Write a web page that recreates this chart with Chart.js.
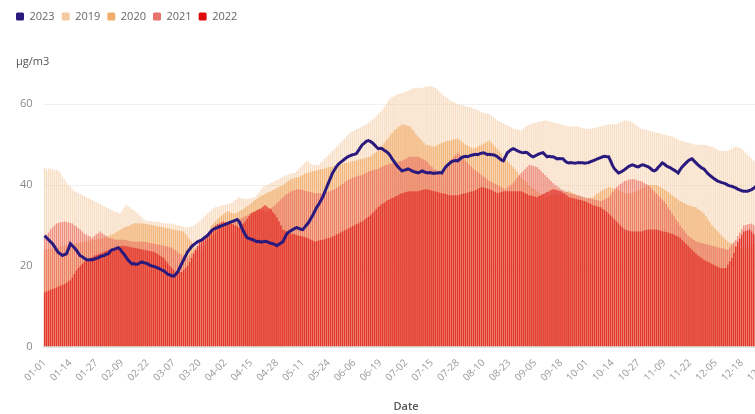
<!DOCTYPE html>
<html><head><meta charset="utf-8">
<script src="https://cdn.jsdelivr.net/npm/chart.js@4.4.0/dist/chart.umd.min.js"></script>
<style>
html,body{margin:0;padding:0;overflow:hidden;background:#fff;}
#wrap{width:778px;height:414px;position:relative;}
</style></head><body>
<div id="wrap"><canvas id="c"></canvas></div>
<script>
const monthDays=[31,28,31,30,31,30,31,31,30,31,30,31];
const categories=[];
monthDays.forEach((n,m)=>{for(let d=1;d<=n;d++){categories.push(String(m+1).padStart(2,'0')+'-'+String(d).padStart(2,'0'));}});
const tickLabels=['01-01','01-14','01-27','02-09','02-22','03-07','03-20','04-02','04-15','04-28','05-11','05-24','06-06','06-19','07-02','07-15','07-28','08-10','08-23','09-05','09-18','10-01','10-14','10-27','11-09','11-22','12-05','12-18','12-31'];
const seriesNames=['2023','2019','2020','2021','2022'];
const legendColors=['#2b1a7e','#f5c9a0','#f0ad6c','#e8736d','#e00b0b'];

const v2019=[
44.2,43.8,44.1,44.0,43.9,43.6,43.8,43.5,42.9,42.0,
41.4,40.6,40.0,39.6,39.0,38.5,38.3,38.0,37.8,37.5,
37.3,37.0,36.8,36.5,36.3,36.0,35.8,35.5,35.3,35.0,
34.8,34.5,34.3,34.0,33.8,33.5,33.4,33.2,33.0,33.6,
34.4,35.0,34.8,34.5,34.1,33.8,33.4,33.0,32.5,32.0,
31.5,31.3,31.1,31.0,31.1,31.0,30.9,31.0,30.8,30.6,
30.5,30.6,30.4,30.5,30.5,30.3,30.2,30.1,30.0,29.8,
29.7,29.6,29.5,29.7,29.8,30.0,30.3,30.6,31.0,31.5,
32.0,32.5,33.0,33.4,33.8,34.2,34.5,34.6,34.8,34.9,
35.0,35.1,35.3,35.4,35.5,35.9,36.3,36.7,37.0,36.9,
36.7,36.6,36.5,36.6,36.8,36.9,37.0,37.6,38.2,38.9,
39.5,39.7,40.0,40.2,40.5,40.7,41.0,41.2,41.5,41.8,
42.0,42.3,42.5,42.6,42.8,42.9,43.0,43.5,44.0,44.5,
45.0,45.5,46.0,45.7,45.3,45.0,45.0,45.1,45.0,45.5,
46.0,46.5,47.0,47.5,48.0,48.5,49.0,49.5,50.0,50.5,
51.0,51.5,52.0,52.5,53.0,53.3,53.5,53.8,54.0,54.3,
54.5,54.8,55.0,55.4,55.8,56.2,56.5,57.0,57.5,58.0,
58.5,59.3,60.0,60.8,61.5,61.8,62.0,62.3,62.5,62.6,
62.8,62.9,63.0,63.3,63.5,63.8,64.0,64.0,64.1,64.0,
64.0,64.2,64.3,64.4,64.5,64.4,64.2,64.0,63.6,63.0,
62.5,62.1,61.8,61.4,61.0,60.8,60.5,60.3,60.0,59.9,
59.8,59.6,59.5,59.4,59.3,59.1,59.0,58.8,58.5,58.3,
58.0,57.9,57.8,57.6,57.5,57.1,56.8,56.4,56.0,55.8,
55.5,55.3,55.0,54.8,54.5,54.3,54.0,53.9,53.8,53.6,
53.5,53.9,54.3,54.7,55.0,55.1,55.3,55.4,55.5,55.7,
55.8,55.9,56.0,55.9,55.8,55.6,55.5,55.4,55.2,55.1,
55.0,54.9,54.8,54.6,54.5,54.5,54.6,54.5,54.5,54.4,
54.2,54.1,54.0,54.0,53.9,54.0,54.0,54.1,54.3,54.4,
54.5,54.6,54.8,54.9,55.0,55.0,55.1,55.0,55.0,55.3,
55.5,55.8,56.0,56.0,55.9,55.7,55.5,55.2,54.8,54.4,
54.0,53.9,53.8,53.6,53.5,53.4,53.2,53.1,53.0,52.9,
52.8,52.6,52.5,52.4,52.2,52.1,52.0,51.8,51.5,51.3,
51.0,50.9,50.8,50.6,50.5,50.4,50.2,50.1,50.0,50.0,
50.0,50.0,50.0,49.9,49.8,49.6,49.5,49.3,49.0,48.8,
48.5,48.5,48.4,48.5,48.5,48.8,49.0,49.3,49.5,49.4,
49.2,48.9,48.5,48.0,47.5,47.0,46.5,46.1,45.8,45.4,
45.0,44.8,44.5,44.2,44.0];

const v2020=[
24.0,24.1,24.2,24.3,24.4,24.5,24.6,24.7,24.8,24.9,
25.0,25.1,25.2,25.3,25.4,25.5,25.6,25.7,25.8,25.9,
26.0,26.1,26.2,26.3,26.4,26.5,26.6,26.7,26.8,26.9,
27.0,27.2,27.4,27.6,27.8,28.0,28.3,28.6,28.9,29.2,
29.5,29.7,29.9,30.1,30.3,30.5,30.6,30.5,30.6,30.5,
30.5,30.4,30.3,30.2,30.1,30.0,29.9,29.8,29.7,29.6,
29.5,29.4,29.3,29.2,29.1,29.0,28.9,28.8,28.7,28.6,
28.5,27.9,27.3,26.6,26.0,25.2,24.5,23.7,23.0,23.6,
24.3,25.0,26.7,28.3,30.0,30.5,31.0,31.5,32.0,32.4,
32.8,33.1,33.5,33.4,33.2,33.1,33.0,33.2,33.5,33.8,
34.0,34.4,34.8,35.1,35.5,35.9,36.3,36.6,37.0,37.3,
37.5,37.8,38.0,38.3,38.5,38.8,39.0,39.3,39.5,39.8,
40.0,40.4,40.8,41.1,41.5,41.6,41.8,41.9,42.0,42.3,
42.5,42.8,43.0,43.1,43.3,43.4,43.5,43.6,43.8,43.9,
44.0,44.1,44.3,44.4,44.5,44.6,44.8,44.9,45.0,45.1,
45.3,45.4,45.5,45.6,45.8,45.9,46.0,46.1,46.3,46.4,
46.5,46.6,46.8,46.9,47.0,47.4,47.8,48.1,48.5,49.1,
49.8,50.4,51.0,51.6,52.3,52.9,53.5,53.9,54.3,54.6,
55.0,54.9,54.8,54.6,54.5,53.9,53.3,52.6,52.0,51.5,
51.0,50.5,50.0,49.9,49.8,49.6,49.5,49.8,50.0,50.3,
50.5,50.6,50.8,50.9,51.0,51.1,51.3,51.4,51.5,51.1,
50.8,50.4,50.0,49.8,49.5,49.3,49.0,49.3,49.5,49.8,
50.0,50.3,50.5,50.8,51.0,50.5,50.0,49.5,49.0,48.4,
47.8,47.1,46.5,46.0,45.5,45.0,44.5,43.9,43.3,42.6,
42.0,41.5,41.0,40.5,40.0,39.6,39.3,38.9,38.5,38.1,
37.8,37.4,37.0,37.1,37.3,37.4,37.5,37.6,37.8,37.9,
38.0,38.1,38.3,38.4,38.5,38.3,38.0,37.8,37.5,37.3,
37.0,36.8,36.5,36.6,36.8,36.9,37.0,37.4,37.8,38.1,
38.5,38.8,39.0,39.3,39.5,39.4,39.3,39.1,39.0,38.8,
38.5,38.3,38.0,38.0,38.0,38.0,38.0,38.3,38.5,38.8,
39.0,39.3,39.5,39.8,40.0,40.0,40.0,40.0,40.0,39.8,
39.5,39.3,39.0,38.6,38.3,37.9,37.5,37.1,36.8,36.4,
36.0,35.8,35.5,35.3,35.0,34.9,34.8,34.6,34.5,34.1,
33.8,33.4,33.0,32.3,31.5,30.8,30.0,29.5,29.0,28.5,
28.0,27.5,27.0,26.5,26.0,25.8,25.5,25.3,25.0,24.8,
24.5,24.3,24.0,24.3,24.5,24.8,25.0,25.3,25.5,25.8,
26.0,26.3,26.5,26.8,27.0];

const v2021=[
27.0,27.7,28.3,29.0,29.5,30.0,30.5,30.6,30.8,30.9,
31.0,30.9,30.8,30.6,30.5,30.1,29.8,29.4,29.0,28.5,
28.0,27.8,27.5,27.3,27.0,27.4,27.8,28.1,28.5,28.1,
27.8,27.4,27.0,26.9,26.8,26.6,26.5,26.5,26.5,26.5,
26.5,26.4,26.3,26.2,26.1,26.0,26.0,26.0,26.0,26.0,
26.0,25.9,25.8,25.7,25.6,25.5,25.4,25.3,25.2,25.1,
25.0,24.9,24.8,24.6,24.5,24.1,23.8,23.4,23.0,22.8,
22.5,22.3,22.0,22.5,23.0,23.5,24.0,24.5,25.0,25.5,
26.0,26.3,26.5,26.8,27.0,27.5,28.0,28.5,29.0,29.3,
29.5,29.8,30.0,30.3,30.5,30.8,31.0,31.3,31.5,31.8,
32.0,32.3,32.5,32.8,33.0,33.3,33.5,33.8,34.0,33.9,
33.8,33.6,33.5,33.9,34.3,34.6,35.0,35.5,36.0,36.5,
37.0,37.4,37.8,38.1,38.5,38.6,38.8,38.9,39.0,38.9,
38.8,38.6,38.5,38.4,38.3,38.1,38.0,38.0,38.0,38.0,
38.0,38.1,38.3,38.4,38.5,38.8,39.0,39.3,39.5,39.9,
40.3,40.6,41.0,41.3,41.5,41.8,42.0,42.1,42.3,42.4,
42.5,42.8,43.0,43.3,43.5,43.6,43.8,43.9,44.0,44.3,
44.5,44.8,45.0,45.1,45.3,45.4,45.5,45.6,45.8,45.9,
46.0,46.3,46.5,46.8,47.0,47.0,47.0,47.0,47.0,46.8,
46.5,46.3,46.0,45.5,45.0,44.5,44.0,43.8,43.5,43.3,
43.0,43.8,44.5,45.3,46.0,46.5,47.0,47.5,48.0,47.5,
47.0,46.5,46.0,45.5,45.0,44.5,44.0,43.6,43.3,42.9,
42.5,42.1,41.8,41.4,41.0,40.8,40.5,40.3,40.0,39.8,
39.5,39.3,39.0,39.4,39.8,40.1,40.5,41.1,41.8,42.4,
43.0,43.5,44.0,44.5,45.0,44.9,44.8,44.6,44.5,44.0,
43.5,43.0,42.5,42.0,41.5,41.0,40.5,40.1,39.8,39.4,
39.0,38.8,38.5,38.3,38.0,37.9,37.8,37.6,37.5,37.4,
37.3,37.1,37.0,36.9,36.8,36.6,36.5,36.4,36.3,36.1,
36.0,36.3,36.5,36.8,37.0,37.6,38.3,38.9,39.5,39.9,
40.3,40.6,41.0,41.1,41.3,41.4,41.5,41.4,41.3,41.1,
41.0,40.8,40.5,40.3,40.0,39.5,39.0,38.5,38.0,37.5,
37.0,36.5,36.0,35.3,34.5,33.8,33.0,32.3,31.5,30.8,
30.0,29.4,28.8,28.1,27.5,27.1,26.8,26.4,26.0,25.9,
25.8,25.6,25.5,25.4,25.3,25.1,25.0,24.9,24.8,24.6,
24.5,24.4,24.3,24.1,24.0,24.6,25.3,25.9,26.5,27.4,
28.3,29.1,30.0,30.1,30.3,30.4,30.5,30.1,29.8,29.4,
29.0,28.5,28.0,27.5,27.0];

const v2022=[
13.5,13.7,13.9,14.1,14.3,14.5,14.7,14.9,15.1,15.3,
15.5,15.8,16.2,16.5,17.2,18.0,18.8,19.5,20.0,20.5,
21.0,21.3,21.6,21.9,22.2,22.5,22.7,22.9,23.1,23.3,
23.5,23.7,23.9,24.1,24.3,24.5,24.6,24.8,24.9,25.0,
25.0,24.9,24.8,24.7,24.6,24.5,24.4,24.3,24.2,24.1,
24.0,23.9,23.8,23.7,23.6,23.5,23.2,22.9,22.6,22.3,
22.0,21.3,20.7,20.0,19.5,19.0,18.5,18.5,18.5,18.5,
19.0,19.5,20.0,21.0,22.0,23.0,24.0,25.0,26.0,26.5,
27.0,27.5,28.0,28.5,29.0,29.5,30.0,30.3,30.5,30.8,
31.0,30.9,30.8,30.6,30.5,30.3,30.0,29.8,29.5,30.0,
30.5,31.0,31.7,32.3,33.0,33.3,33.5,33.8,34.0,34.3,
34.7,35.0,34.7,34.3,34.0,33.3,32.7,32.0,31.0,30.0,
29.0,28.8,28.5,28.3,28.0,27.9,27.8,27.6,27.5,27.4,
27.3,27.1,27.0,26.8,26.5,26.3,26.0,26.1,26.3,26.4,
26.5,26.6,26.8,26.9,27.0,27.3,27.5,27.8,28.0,28.3,
28.5,28.8,29.0,29.3,29.5,29.8,30.0,30.3,30.5,30.8,
31.0,31.4,31.8,32.1,32.5,33.0,33.5,34.0,34.5,34.9,
35.3,35.6,36.0,36.3,36.5,36.8,37.0,37.3,37.5,37.8,
38.0,38.1,38.3,38.4,38.5,38.5,38.5,38.5,38.5,38.6,
38.8,38.9,39.0,38.9,38.8,38.6,38.5,38.4,38.3,38.1,
38.0,37.9,37.8,37.6,37.5,37.5,37.5,37.5,37.5,37.6,
37.8,37.9,38.0,38.1,38.3,38.4,38.5,38.8,39.0,39.3,
39.5,39.4,39.3,39.1,39.0,38.8,38.5,38.3,38.0,38.1,
38.3,38.4,38.5,38.5,38.5,38.5,38.5,38.5,38.5,38.5,
38.5,38.3,38.0,37.8,37.5,37.4,37.3,37.1,37.0,37.3,
37.5,37.8,38.0,38.3,38.5,38.8,39.0,38.9,38.8,38.6,
38.5,38.1,37.8,37.4,37.0,36.9,36.8,36.6,36.5,36.4,
36.3,36.1,36.0,35.8,35.5,35.3,35.0,34.9,34.8,34.6,
34.5,34.1,33.8,33.4,33.0,32.5,32.0,31.5,31.0,30.5,
30.0,29.5,29.0,28.9,28.8,28.6,28.5,28.5,28.5,28.5,
28.5,28.6,28.8,28.9,29.0,29.0,29.0,29.0,29.0,28.9,
28.8,28.6,28.5,28.4,28.3,28.1,28.0,27.8,27.5,27.3,
27.0,26.5,26.0,25.5,25.0,24.5,24.0,23.5,23.0,22.6,
22.3,21.9,21.5,21.3,21.0,20.8,20.5,20.3,20.0,19.8,
19.5,19.5,19.5,19.5,20.3,21.2,22.0,23.3,24.7,26.0,
26.8,27.7,28.5,28.7,28.8,29.0,28.5,28.0,27.5,27.3,
27.2,27.0,27.0,27.0,27.0];

const v2023=[
27.5,27.0,26.5,26.0,25.5,24.8,24.0,23.3,23.0,22.6,
22.8,23.0,24.2,25.5,25.0,24.5,23.9,23.2,22.5,22.3,
21.9,21.6,21.5,21.6,21.5,21.7,21.9,22.0,22.3,22.5,
22.6,22.9,23.0,23.6,24.0,24.1,24.3,24.5,24.2,23.5,
22.9,22.2,21.5,21.0,20.5,20.6,20.4,20.5,20.8,21.0,
20.8,20.7,20.5,20.2,20.0,19.9,19.7,19.5,19.3,19.0,
18.8,18.4,18.0,17.8,17.6,17.5,17.9,18.5,19.5,20.5,
21.5,22.5,23.5,24.1,24.8,25.2,25.6,26.0,26.2,26.4,
26.8,27.2,27.5,28.1,28.7,29.1,29.3,29.5,29.7,29.9,
30.1,30.3,30.5,30.7,30.9,31.1,31.3,31.5,31.0,29.8,
28.7,27.8,27.0,26.8,26.6,26.5,26.2,26.0,26.1,25.9,
26.0,26.1,26.0,25.8,25.6,25.5,25.3,25.0,25.4,25.7,
26.0,27.0,28.0,28.4,28.7,29.0,29.3,29.5,29.3,29.1,
29.0,29.6,30.2,30.8,31.7,32.5,33.5,34.5,35.2,36.1,
37.0,38.2,39.4,40.6,41.8,43.0,43.8,44.6,45.2,45.6,
46.0,46.4,46.8,47.1,47.3,47.5,47.6,47.8,48.5,49.3,
50.0,50.4,50.8,51.0,50.8,50.5,50.0,49.5,49.0,49.1,
49.0,48.6,48.3,47.9,47.3,46.5,45.8,45.1,44.5,44.0,
43.5,43.7,43.8,44.0,43.8,43.5,43.3,43.2,43.0,43.2,
43.5,43.3,43.1,43.0,43.1,43.0,42.9,43.0,43.0,43.1,
43.0,43.8,44.5,45.0,45.4,45.8,46.0,46.1,46.0,46.4,
46.8,47.0,47.1,47.0,47.2,47.4,47.5,47.6,47.5,47.7,
47.9,48.0,47.8,47.5,47.6,47.5,47.5,47.3,47.0,46.6,
46.2,46.0,47.0,48.0,48.4,48.8,49.0,48.8,48.5,48.3,
48.1,48.0,48.1,48.0,47.6,47.2,47.0,47.2,47.5,47.7,
47.9,48.0,47.5,47.0,47.1,47.0,47.0,46.8,46.5,46.6,
46.5,46.5,46.0,45.6,45.5,45.6,45.5,45.4,45.5,45.6,
45.5,45.5,45.4,45.5,45.6,45.8,46.0,46.2,46.4,46.6,
46.8,47.0,47.1,47.0,47.0,46.0,44.8,44.0,43.5,43.0,
43.2,43.5,43.8,44.2,44.6,44.8,45.0,44.8,44.6,44.5,
44.8,45.0,44.9,44.7,44.5,44.2,43.7,43.5,43.8,44.4,
44.9,45.5,45.2,44.8,44.5,44.3,44.0,43.7,43.4,43.0,
43.8,44.5,45.0,45.5,46.0,46.3,46.5,46.0,45.5,45.0,
44.6,44.2,44.0,43.4,42.8,42.4,42.0,41.6,41.3,41.0,
40.8,40.6,40.5,40.3,40.0,39.8,39.7,39.5,39.3,39.0,
38.8,38.6,38.5,38.5,38.5,38.7,38.9,39.2,39.6,40.0,40.3];

const unitPlugin={
  id:'unitLabel',
  beforeLayout(chart){
    const lg=chart.legend;
    if(lg && !lg._unitPatched){
      const f=lg.fit;
      lg.fit=function(){f.call(this); this.height+=52;};
      lg._unitPatched=true;
    }
  },
  afterDraw(chart){
    const ctx=chart.ctx;
    ctx.save();
    ctx.font='11px "Open Sans", sans-serif';
    ctx.fillStyle='#555';
    ctx.textBaseline='middle';
    ctx.textAlign='left';
    ctx.fillText('\u00b5g/m3',16,62);
    ctx.restore();
  }
};

const barBase={type:'bar',grouped:false,barPercentage:0.75,categoryPercentage:1.0,borderWidth:0};

new Chart(document.getElementById('c'),{
  data:{
    labels:categories,
    datasets:[
      {type:'line',label:seriesNames[0],data:v2023,borderColor:'#2b1a7e',backgroundColor:'#2b1a7e',borderWidth:3,pointRadius:0,tension:0,order:0},
      Object.assign({},barBase,{label:seriesNames[1],data:v2019,backgroundColor:'rgba(244,200,156,0.6)',order:4}),
      Object.assign({},barBase,{label:seriesNames[2],data:v2020,backgroundColor:'rgba(240,168,98,0.75)',order:3}),
      Object.assign({},barBase,{label:seriesNames[3],data:v2021,backgroundColor:'rgba(232,100,90,0.65)',order:2}),
      Object.assign({},barBase,{label:seriesNames[4],data:v2022,backgroundColor:'rgba(224,38,32,0.82)',order:1})
    ]
  },
  options:{
    responsive:true,maintainAspectRatio:false,animation:false,
    layout:{padding:{left:9,top:4,right:8,bottom:1}},
    plugins:{
      tooltip:{enabled:false},
      legend:{
        position:'top',align:'start',
        labels:{
          boxWidth:8,boxHeight:8,padding:7,useBorderRadius:true,borderRadius:1.5,
          color:'#666',font:{family:'"Open Sans", sans-serif',size:11},
          sort:(a,b)=>a.datasetIndex-b.datasetIndex,
          generateLabels:(chart)=>chart.data.datasets.map((ds,i)=>({
            text:ds.label,fillStyle:legendColors[i],strokeStyle:legendColors[i],lineWidth:0,
            hidden:false,datasetIndex:i,borderRadius:1.5,fontColor:'#666'
          }))
        }
      }
    },
    scales:{
      x:{
        grid:{display:false},
        border:{display:true,color:'#dcecec',width:2},
        afterBuildTicks:(axis)=>{axis.ticks=axis.ticks.filter(t=>tickLabels.includes(categories[t.value]));},
        ticks:{autoSkip:false,minRotation:45,maxRotation:45,color:'#999',font:{family:'"Open Sans", sans-serif',size:10},padding:2,
          callback:(v)=>categories[v]},
        title:{display:true,text:'Date',color:'#555',font:{family:'"Open Sans", sans-serif',size:11,weight:'600'},padding:{top:14,bottom:0}}
      },
      y:{
        min:0,max:65,
        grid:{color:'#efefef',drawTicks:false},
        border:{display:false},
        ticks:{stepSize:20,includeBounds:false,color:'#888',font:{family:'"Open Sans", sans-serif',size:11},padding:11}
      }
    }
  },
  plugins:[unitPlugin]
});
</script>
</body></html>
